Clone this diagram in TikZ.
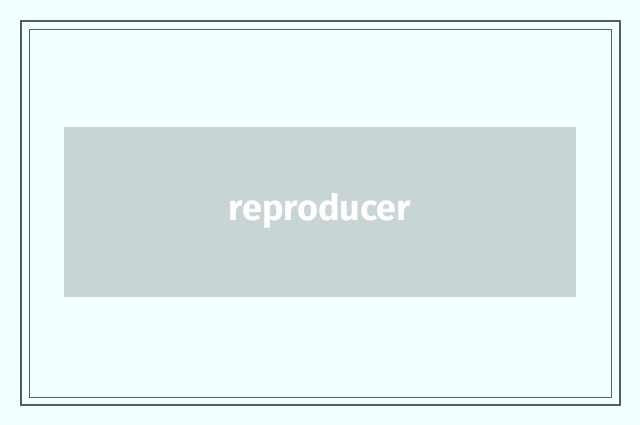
\documentclass[tikz,border=0pt]{standalone}
\usepackage{fontspec}
\setsansfont{Fira Sans}
\begin{document}
\begin{tikzpicture}[
    x=1pt, y=-1pt,
    frame/.style={draw=framegray, fill=none},
    box/.style={fill=boxgray, draw=none}
  ]
  \definecolor{bgcyan}{HTML}{F4FFFF}
  \definecolor{framegray}{HTML}{506060}
  \definecolor{boxgray}{HTML}{C8D5D5}
  % canvas
  \fill[bgcyan] (0,0) rectangle (640,425);
  \useasboundingbox (0,0) rectangle (640,425);
  % frames
  \draw[frame, line width=2pt] (21,21) rectangle (620,405);
  \draw[frame, line width=0.8pt] (29,29) rectangle (611,397);
  % placeholder
  \fill[box] (64,127) rectangle (576,297);
  \node[font=\sffamily\bfseries\fontsize{36}{40}\selectfont, text=white] (label) at (320,211) {reproducer};
\end{tikzpicture}
\end{document}
